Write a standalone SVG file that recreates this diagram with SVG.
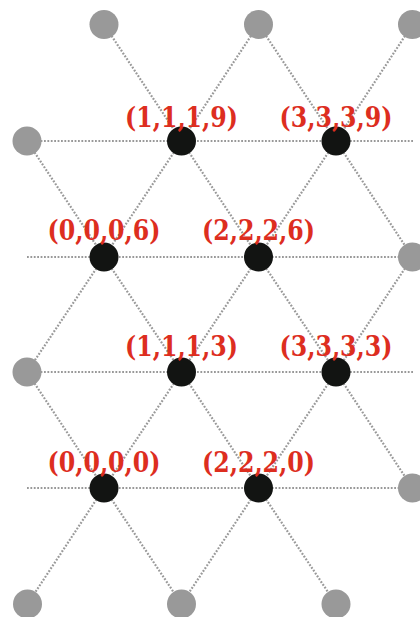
<svg xmlns="http://www.w3.org/2000/svg" width="420" height="617" viewBox="0 0 420 617">
<style>
.e{stroke:#999;stroke-width:2.2;stroke-dasharray:1.8 1.6;fill:none}
.g{fill:#999}
.b{fill:#121412}
.t{font-family:"DejaVu Serif","Liberation Serif",serif;font-weight:bold;font-size:27px;fill:#dd2e1f;text-anchor:middle}
</style>
<rect width="420" height="617" fill="#fff"/>
<g id="connectors">
<line class="e" x1="104" y1="24.5" x2="181.5" y2="141"/>
<line class="e" x1="258.5" y1="24.5" x2="181.5" y2="141"/>
<line class="e" x1="258.5" y1="24.5" x2="336" y2="141"/>
<line class="e" x1="412.5" y1="24.5" x2="336" y2="141"/>
<line class="e" x1="27" y1="141" x2="414" y2="141"/>
<line class="e" x1="27" y1="141" x2="104" y2="257"/>
<line class="e" x1="181.5" y1="141" x2="104" y2="257"/>
<line class="e" x1="181.5" y1="141" x2="258.5" y2="257"/>
<line class="e" x1="336" y1="141" x2="258.5" y2="257"/>
<line class="e" x1="336" y1="141" x2="412.5" y2="257"/>
<line class="e" x1="27" y1="257" x2="412.5" y2="257"/>
<line class="e" x1="104" y1="257" x2="27" y2="372"/>
<line class="e" x1="104" y1="257" x2="181.5" y2="372"/>
<line class="e" x1="258.5" y1="257" x2="181.5" y2="372"/>
<line class="e" x1="258.5" y1="257" x2="336" y2="372"/>
<line class="e" x1="412.5" y1="257" x2="336" y2="372"/>
<line class="e" x1="27" y1="372" x2="414" y2="372"/>
<line class="e" x1="27" y1="372" x2="104" y2="488"/>
<line class="e" x1="181.5" y1="372" x2="104" y2="488"/>
<line class="e" x1="181.5" y1="372" x2="258.5" y2="488"/>
<line class="e" x1="336" y1="372" x2="258.5" y2="488"/>
<line class="e" x1="336" y1="372" x2="412.5" y2="488"/>
<line class="e" x1="27" y1="488" x2="412.5" y2="488"/>
<line class="e" x1="104" y1="488" x2="27.5" y2="604"/>
<line class="e" x1="104" y1="488" x2="181.5" y2="604"/>
<line class="e" x1="258.5" y1="488" x2="181.5" y2="604"/>
<line class="e" x1="258.5" y1="488" x2="336" y2="604"/>
</g>
<g id="g1"><circle class="g" cx="104" cy="24.5" r="14.5"/></g>
<g id="g2"><circle class="g" cx="258.5" cy="24.5" r="14.5"/></g>
<g id="g3"><circle class="g" cx="412.5" cy="24.5" r="14.5"/></g>
<g id="g4"><circle class="g" cx="27" cy="141" r="14.5"/></g>
<g id="g5"><circle class="g" cx="412.5" cy="257" r="14.5"/></g>
<g id="g6"><circle class="g" cx="27" cy="372" r="14.5"/></g>
<g id="g7"><circle class="g" cx="412.5" cy="488" r="14.5"/></g>
<g id="g8"><circle class="g" cx="27.5" cy="604" r="14.5"/></g>
<g id="g9"><circle class="g" cx="181.5" cy="604" r="14.5"/></g>
<g id="g10"><circle class="g" cx="336" cy="604" r="14.5"/></g>
<g id="n1119"><circle class="b" cx="181.5" cy="141" r="14.5"/><text class="t" x="181.5" y="127" textLength="113" lengthAdjust="spacingAndGlyphs">(1,1,1,9)</text></g>
<g id="n3339"><circle class="b" cx="336" cy="141" r="14.5"/><text class="t" x="336" y="127" textLength="113" lengthAdjust="spacingAndGlyphs">(3,3,3,9)</text></g>
<g id="n0006"><circle class="b" cx="104" cy="257" r="14.5"/><text class="t" x="104" y="240" textLength="113" lengthAdjust="spacingAndGlyphs">(0,0,0,6)</text></g>
<g id="n2226"><circle class="b" cx="258.5" cy="257" r="14.5"/><text class="t" x="258.5" y="240" textLength="113" lengthAdjust="spacingAndGlyphs">(2,2,2,6)</text></g>
<g id="n1113"><circle class="b" cx="181.5" cy="372" r="14.5"/><text class="t" x="181.5" y="356" textLength="113" lengthAdjust="spacingAndGlyphs">(1,1,1,3)</text></g>
<g id="n3333"><circle class="b" cx="336" cy="372" r="14.5"/><text class="t" x="336" y="356" textLength="113" lengthAdjust="spacingAndGlyphs">(3,3,3,3)</text></g>
<g id="n0000"><circle class="b" cx="104" cy="488" r="14.5"/><text class="t" x="104" y="472" textLength="113" lengthAdjust="spacingAndGlyphs">(0,0,0,0)</text></g>
<g id="n2220"><circle class="b" cx="258.5" cy="488" r="14.5"/><text class="t" x="258.5" y="472" textLength="113" lengthAdjust="spacingAndGlyphs">(2,2,2,0)</text></g>
</svg>
